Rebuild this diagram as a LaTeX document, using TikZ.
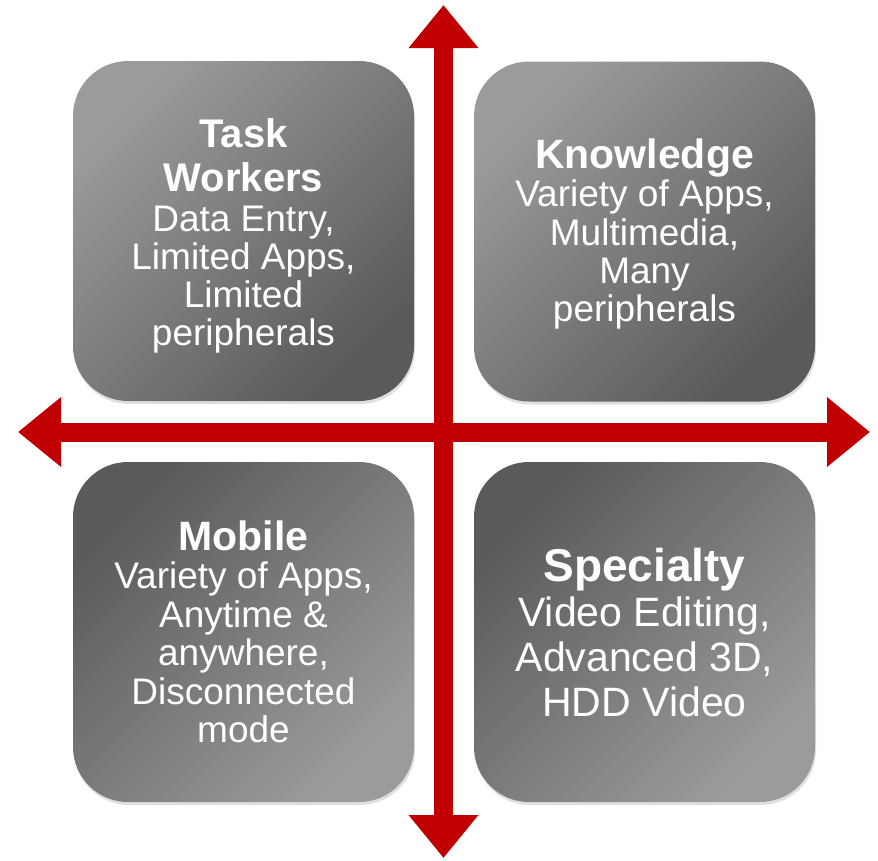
\documentclass[tikz,border=0pt]{standalone}
\usepackage{fontspec}
\setmainfont{Liberation Sans}
\usetikzlibrary{arrows.meta,shadows}
\definecolor{axisred}{RGB}{192,0,0}
\definecolor{boxlight}{RGB}{155,155,155}
\definecolor{boxdark}{RGB}{90,90,90}
\def\quadfont#1#2{\fontsize{#1}{#2}\selectfont\spaceskip=\fontdimen2\font\relax}

\begin{document}
\begin{tikzpicture}[x=1pt,y=1pt,yscale=-1,xscale=1,
	quadbox/.style={rounded corners=55pt,minimum width=341pt,minimum height=340pt,inner sep=0pt,
		drop shadow={opacity=0.25,shadow xshift=1pt,shadow yshift=-3pt}},
	quadtext/.style={text width=335pt,align=center,text=white,inner sep=0pt},
	lighttop/.style={top color=boxlight,bottom color=boxdark,shading angle=45},
	darktop/.style={top color=boxdark,bottom color=boxlight,shading angle=45},
	axisarrow/.style={line width=19pt,axisred,{Triangle[width=67pt,length=43pt]}-{Triangle[width=67pt,length=43pt]}}]
		\useasboundingbox (0,0) rectangle (878,860);
		\node [quadbox,lighttop] (task) at (243.5,231) {};
		\node [quadbox,lighttop] (knowledge) at (644.5,231.5) {};
		\node [quadbox,darktop] (mobile) at (243.5,632) {};
		\node [quadbox,darktop] (specialty) at (644.5,632) {};
		\node [quadtext] (task-text) at (243.5,235.4) {{\quadfont{40}{44}\bfseries Task\\Workers\par}\vspace{2pt}{\quadfont{37}{38}Data Entry,\\Limited Apps,\\Limited\\peripherals\par}};
		\node [quadtext] (knowledge-text) at (644.5,234.1) {{\quadfont{41}{38}\bfseries Knowledge\par}{\quadfont{37}{38.2}Variety of Apps,\\Multimedia,\\Many\\peripherals\par}};
		\node [quadtext] (mobile-text) at (243.5,632) {{\quadfont{41}{38.5}\bfseries Mobile\par}{\quadfont{37}{38.5}Variety of Apps,\\Anytime \&\\anywhere,\\Disconnected\\mode\par}};
		\node [quadtext] (specialty-text) at (644.5,632.4) {{\quadfont{46}{45}\bfseries Specialty\par}{\quadfont{41}{45}Video Editing,\\Advanced 3D,\\HDD Video\par}};
		% axis ends
		\coordinate (north) at (443.5,5);
		\coordinate (south) at (443.5,858);
		\coordinate (west) at (18,432);
		\coordinate (east) at (870,432);
		\draw [axisarrow] (north) -- (south);
		\draw [axisarrow] (west) -- (east);
	\end{tikzpicture}
\end{document}
